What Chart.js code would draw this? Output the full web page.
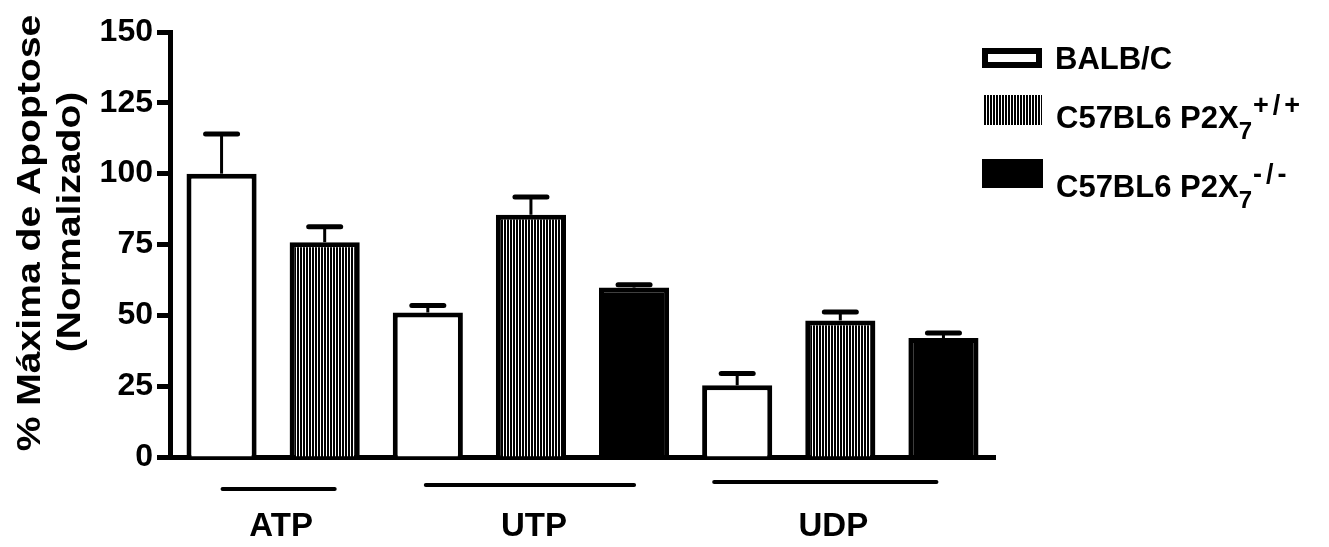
<!DOCTYPE html>
<html>
<head>
<meta charset="utf-8">
<script src="https://cdn.jsdelivr.net/npm/chart.js@4.4.0/dist/chart.umd.min.js"></script>
<style>
  html, body { margin: 0; padding: 0; background: #fff; }
  #wrap { width: 1329px; height: 547px; position: relative; }
</style>
</head>
<body>
<div id="wrap"><canvas id="myChart" width="1329" height="547"></canvas></div>
<script>
// treatments and values (mean, SEM)
const treatments = ['ATP', 'UTP', 'UDP'];
const seriesNames = ['BALB/C', 'C57BL6 P2X7+/+', 'C57BL6 P2X7-/-'];
const balbValues = [100, 51, 25.3];
const balbErrors = [14, 2.5, 4.2];
const wtValues = [75.8, 85.5, 48.2];
const wtErrors = [5.5, 6.3, 3];
const koValues = [null, 59.8, 42];
const koErrors = [null, 1, 1.8];
const yTicks = [0, 25, 50, 75, 100, 125, 150];

const FONT = 'Liberation Sans, Arial, Helvetica, sans-serif';

// vertical stripe fill
function makeStripes() {
    const c = document.createElement('canvas');
    c.width = 3; c.height = 10;
    const g = c.getContext('2d');
    g.fillStyle = '#fff';
    g.fillRect(0, 0, 3, 10);
    g.fillStyle = '#000';
    g.fillRect(0, 0, 2, 10);
    return document.getElementById('myChart').getContext('2d').createPattern(c, 'repeat');
}
const stripes = makeStripes();

// one slot per bar on the x axis, empty KO slot for ATP is skipped
const slots = [];
const allValues = [balbValues, wtValues, koValues];
const allErrors = [balbErrors, wtErrors, koErrors];
treatments.forEach((t, ti) => {
    allValues.forEach((vals, si) => {
        if (vals[ti] !== null) slots.push({ label: t + ' ' + seriesNames[si], group: ti, series: si, value: vals[ti], err: allErrors[si][ti] });
    });
});
const slotLabels = slots.map(s => s.label);

function seriesData(si) {
    return slots.map(s => s.series === si ? s.value : null);
}
function seriesErr(si) {
    return slots.map(s => s.series === si ? s.err : null);
}

const fills = ['#ffffff', stripes, '#000000'];

// error bars (SEM, upper only)
const errorBarPlugin = {
    id: 'errorBars',
    afterDatasetsDraw(chart) {
        const ctx = chart.ctx;
        const y = chart.scales.y;
        ctx.save();
        ctx.strokeStyle = '#000';
        chart.data.datasets.forEach((ds, di) => {
            const meta = chart.getDatasetMeta(di);
            meta.data.forEach((bar, i) => {
                const v = ds.data[i];
                const e = ds.errors[i];
                if (v === null || e === null) return;
                const top = y.getPixelForValue(v + e);
                ctx.lineCap = 'butt';
                ctx.lineWidth = 3;
                ctx.beginPath();
                ctx.moveTo(bar.x, bar.y);
                ctx.lineTo(bar.x, top);
                ctx.stroke();
                ctx.lineCap = 'round';
                ctx.lineWidth = 5;
                ctx.beginPath();
                ctx.moveTo(bar.x - 16, top);
                ctx.lineTo(bar.x + 16, top);
                ctx.stroke();
            });
        });
        ctx.restore();
    }
};

// group lines + treatment labels under the axis
const groupLineY = [489, 485, 482];
const groupLineOffsets = [[1, 10], [-2, 0], [-23, -7]];
const groupLabelShift = [8, 3, -7];
const groupPlugin = {
    id: 'groups',
    afterDraw(chart) {
        const ctx = chart.ctx;
        ctx.save();
        ctx.strokeStyle = '#000';
        ctx.fillStyle = '#000';
        ctx.lineWidth = 4;
        ctx.lineCap = 'round';
        ctx.font = 'bold 33px ' + FONT;
        ctx.textAlign = 'center';
        ctx.textBaseline = 'alphabetic';
        treatments.forEach((t, gi) => {
            const idx = slots.map((s, i) => s.group === gi ? i : -1).filter(i => i >= 0);
            const x0 = chart.scales.x.getPixelForValue(idx[0]);
            const x1 = chart.scales.x.getPixelForValue(idx[idx.length - 1]);
            ctx.beginPath();
            ctx.moveTo(x0 + groupLineOffsets[gi][0], groupLineY[gi]);
            ctx.lineTo(x1 + groupLineOffsets[gi][1], groupLineY[gi]);
            ctx.stroke();
            ctx.fillText(t, (x0 + x1) / 2 + groupLabelShift[gi], 536);
        });
        ctx.restore();
    }
};

// y title, two lines, a bit wide like the original
function drawRotated(ctx, text, x, y) {
    ctx.save();
    ctx.fillStyle = '#000';
    ctx.font = 'bold 34px ' + FONT;
    ctx.textAlign = 'center';
    ctx.textBaseline = 'middle';
    ctx.translate(x, y);
    ctx.rotate(-Math.PI / 2);
    ctx.scale(1.15, 1);
    ctx.fillText(text, 0, 0);
    ctx.restore();
}
const yTitlePlugin = {
    id: 'yTitle',
    afterDraw(chart) {
        drawRotated(chart.ctx, '% Máxima de Apoptose', 31, 233);
        drawRotated(chart.ctx, '(Normalizado)', 71, 222);
    }
};

// legend with sub/superscripts
const legendPlugin = {
    id: 'customLegend',
    afterDraw(chart) {
        const ctx = chart.ctx;
        ctx.save();
        ctx.fillStyle = '#000';
        ctx.strokeStyle = '#000';
        ctx.lineWidth = 6;
        ctx.fillStyle = '#fff';
        ctx.fillRect(985, 51, 54, 14);
        ctx.strokeRect(985, 51, 54, 14);
        ctx.fillStyle = stripes;
        ctx.fillRect(983, 95, 59, 30);
        ctx.fillStyle = '#000';
        ctx.fillRect(982, 159, 61, 29);

        ctx.textAlign = 'left';
        ctx.textBaseline = 'alphabetic';
        ctx.font = 'bold 31px ' + FONT;
        ctx.fillText('BALB/C', 1055, 69);

        const rows = [[128, ['+', '/', '+']], [197, ['-', '/', '-']]];
        rows.forEach(([base, sup]) => {
            ctx.font = 'bold 31px ' + FONT;
            const main = 'C57BL6 P2X';
            ctx.fillText(main, 1056, base);
            const w = ctx.measureText(main).width;
            ctx.font = 'bold 24px ' + FONT;
            ctx.fillText('7', 1056 + w, base + 11);
            let x = 1056 + w + ctx.measureText('7').width + 1;
            ctx.font = 'bold 27px ' + FONT;
            sup.forEach(ch => {
                ctx.fillText(ch, x, base - 14);
                x += ctx.measureText(ch).width + 4;
            });
        });
        ctx.restore();
    }
};

const ctx = document.getElementById('myChart').getContext('2d');
const myChart = new Chart(ctx, {
    type: 'bar',
    data: {
        labels: slotLabels,
        datasets: seriesNames.map((name, si) => ({
            label: name,
            data: seriesData(si),
            errors: seriesErr(si),
            backgroundColor: fills[si],
            borderColor: '#000',
            borderWidth: 5,
            borderSkipped: 'bottom',
            grouped: false,
            barPercentage: 0.68,
            categoryPercentage: 1.0
        }))
    },
    options: {
        responsive: false,
        animation: false,
        events: [],
        layout: { padding: { top: 32, right: 334, bottom: 0, left: 0 } },
        plugins: {
            legend: { display: false },
            tooltip: { enabled: false },
            title: { display: false }
        },
        scales: {
            x: {
                type: 'category',
                grid: { display: false },
                border: { display: true, color: '#000', width: 5 },
                ticks: { display: false },
                afterFit(scale) { scale.height = 90; }
            },
            y: {
                min: 0,
                max: 150,
                afterBuildTicks(scale) { scale.ticks = yTicks.map(v => ({ value: v })); },
                grid: { display: true, drawOnChartArea: false, drawTicks: true, tickLength: 13, tickWidth: 5, tickColor: '#000' },
                border: { display: true, color: '#000', width: 5 },
                ticks: {
                    color: '#000',
                    padding: 4,
                    font: { family: FONT, size: 32, weight: 'bold' }
                },
                afterFit(scale) { scale.width = 170; }
            }
        }
    },
    plugins: [errorBarPlugin, groupPlugin, yTitlePlugin, legendPlugin]
});
</script>
</body>
</html>
